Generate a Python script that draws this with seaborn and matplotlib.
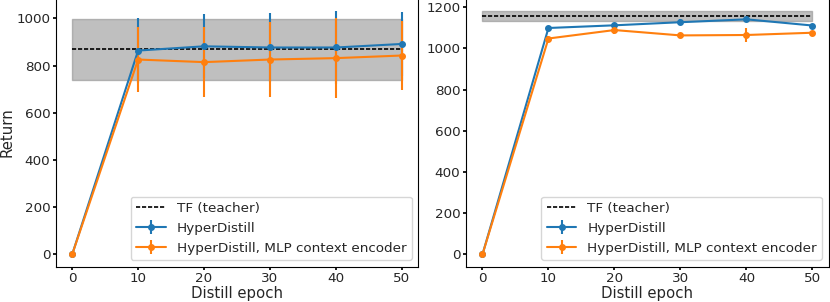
import matplotlib
matplotlib.use("Agg")
import matplotlib.pyplot as plt
import numpy as np
import seaborn as sns

epochs = [0, 10, 20, 30, 40, 50]

# left panel
teacher_l = 870
teacher_l_std = 129
hyper_l = [0, 864, 882, 877, 877, 892]
hyper_l_err = [0, 136, 135, 147, 156, 136]
mlp_l = [0, 826, 815, 826, 832, 843]
mlp_l_err = [0, 138, 148, 160, 171, 148]

# right panel
teacher_r = 1158
teacher_r_std = 25
hyper_r = [0, 1099, 1112, 1127, 1141, 1111]
hyper_r_err = [0, 5, 5, 15, 10, 6]
mlp_r = [0, 1048, 1089, 1063, 1065, 1076]
mlp_r_err = [0, 13, 20, 5, 34, 5]

sns.set_theme(style="ticks")
plt.rcParams['font.family'] = ['DejaVu Sans']
fs = 9.7
pal = sns.color_palette("tab10")

fig = plt.figure(figsize=(8.3, 3.02), dpi=100)
ax1 = fig.add_axes([0.0671, 0.117, 0.4369, 0.888])
ax2 = fig.add_axes([0.5614, 0.117, 0.4373, 0.888])


def panel(ax, t, t_std, h, h_err, m, m_err):
    x0, x1 = epochs[0], epochs[-1]
    ax.fill_between([x0, x1], [t - t_std] * 2, [t + t_std] * 2,
                    color="gray", alpha=0.5)
    line = sns.lineplot(x=[x0, x1], y=[t, t], ax=ax, color="black",
                        linewidth=1.2, label="TF (teacher)")
    ax.lines[-1].set_dashes((2.5, 1.1))
    ax.errorbar(epochs, h, yerr=h_err, color=pal[0], marker="o",
                markersize=4, linewidth=1.5, label="HyperDistill")
    ax.errorbar(epochs, m, yerr=m_err, color=pal[1], marker="o",
                markersize=4, linewidth=1.5,
                label="HyperDistill, MLP context encoder")
    ax.set_xlabel("Distill epoch", fontsize=fs + 1, labelpad=0.5)
    ax.set_xticks(epochs)
    ax.tick_params(labelsize=fs, length=2.5, pad=1.5, color="black")
    for s in ax.spines.values():
        s.set_color("black")
        s.set_linewidth(0.8)
    ax.legend(loc="lower right", fontsize=fs, frameon=True,
              fancybox=True, framealpha=0.8, handlelength=2.2)
    ax.margins(x=0.05, y=0.05)


panel(ax1, teacher_l, teacher_l_std, hyper_l, hyper_l_err, mlp_l, mlp_l_err)
panel(ax2, teacher_r, teacher_r_std, hyper_r, hyper_r_err, mlp_r, mlp_r_err)
ax1.set_ylabel("Return", fontsize=fs + 1, labelpad=1)
ax1.set_yticks([0, 200, 400, 600, 800, 1000])
ax2.set_yticks([0, 200, 400, 600, 800, 1000, 1200])

fig.savefig("out.png", dpi=100)
